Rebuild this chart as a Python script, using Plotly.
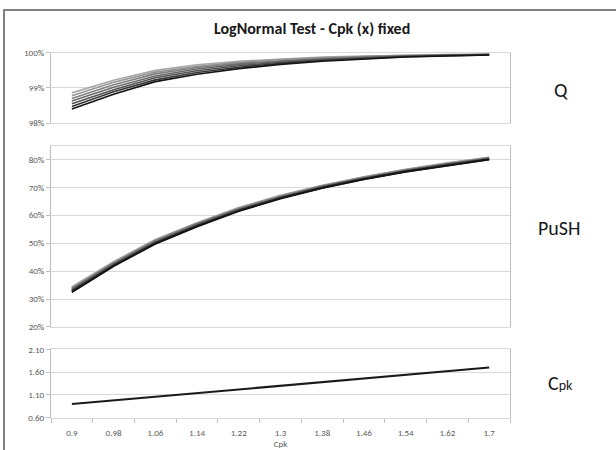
import plotly.graph_objects as go

W, H = 616, 450

# Cpk categories along the shared horizontal axis
cpk = [0.9, 0.98, 1.06, 1.14, 1.22, 1.3, 1.38, 1.46, 1.54, 1.62, 1.7]
cpk_labels = ["0.9", "0.98", "1.06", "1.14", "1.22", "1.3", "1.38", "1.46", "1.54", "1.62", "1.7"]

# Q (%) – seven runs, lightest to darkest
q_1 = [98.86, 99.22, 99.50, 99.66, 99.76, 99.83, 99.88, 99.91, 99.93, 99.95, 99.96]
q_2 = [98.78, 99.16, 99.45, 99.62, 99.73, 99.81, 99.86, 99.90, 99.93, 99.95, 99.96]
q_3 = [98.70, 99.09, 99.40, 99.58, 99.70, 99.78, 99.84, 99.89, 99.92, 99.94, 99.95]
q_4 = [98.63, 99.02, 99.34, 99.54, 99.67, 99.76, 99.82, 99.87, 99.91, 99.93, 99.95]
q_5 = [98.55, 98.95, 99.29, 99.49, 99.63, 99.73, 99.80, 99.86, 99.90, 99.93, 99.95]
q_6 = [98.47, 98.89, 99.23, 99.44, 99.59, 99.70, 99.78, 99.84, 99.89, 99.92, 99.94]
q_7 = [98.40, 98.82, 99.18, 99.39, 99.55, 99.67, 99.76, 99.83, 99.88, 99.91, 99.94]

# PuSH (%) – seven runs, lightest to darkest
p_1 = [34.3, 43.3, 51.3, 57.3, 62.7, 67.1, 70.7, 73.7, 76.4, 78.7, 80.7]
p_2 = [34.0, 43.0, 51.0, 57.1, 62.5, 66.9, 70.5, 73.6, 76.3, 78.6, 80.6]
p_3 = [33.7, 42.8, 50.8, 56.9, 62.3, 66.7, 70.4, 73.4, 76.1, 78.4, 80.5]
p_4 = [33.4, 42.5, 50.5, 56.7, 62.1, 66.5, 70.2, 73.3, 76.0, 78.3, 80.3]
p_5 = [33.1, 42.3, 50.3, 56.5, 61.9, 66.3, 70.1, 73.2, 75.9, 78.2, 80.2]
p_6 = [32.8, 42.0, 50.0, 56.2, 61.7, 66.2, 69.9, 73.0, 75.7, 78.0, 80.1]
p_7 = [32.5, 41.8, 49.8, 56.0, 61.5, 66.0, 69.8, 72.9, 75.6, 77.9, 80.0]

# Cpk on the y scale
cpk_y = [0.9, 0.98, 1.06, 1.14, 1.22, 1.3, 1.38, 1.46, 1.54, 1.62, 1.7]

# y tick labels
q_ticks = [98, 99, 100]
q_tick_labels = ["98%", "99%", "100%"]
p_ticks = [20, 30, 40, 50, 60, 70, 80]
p_tick_labels = ["20%", "30%", "40%", "50%", "60%", "70%", "80%"]
c_ticks = [0.6, 1.1, 1.6, 2.1]
c_tick_labels = ["0.60", "1.10", "1.60", "2.10"]

q_series = [q_1, q_2, q_3, q_4, q_5, q_6, q_7]
p_series = [p_1, p_2, p_3, p_4, p_5, p_6, p_7]
greys = ["#a8a8a8", "#959595", "#808080", "#6a6a6a", "#525252", "#363636", "#151515"]

FONT = "Carlito, Lato, sans-serif"
GRID = "#d9d9d9"
AX = "#bfbfbf"
TICKF = dict(family=FONT, size=9, color="#595959")


def px_x(p):
    return p / W


def py(p):
    return 1 - p / H


fig = go.Figure()

for s, c in zip(q_series, greys):
    fig.add_trace(go.Scatter(x=cpk, y=s, mode="lines", line=dict(color=c, width=1.6),
                             xaxis="x3", yaxis="y3", showlegend=False))
for s, c in zip(p_series, greys):
    fig.add_trace(go.Scatter(x=cpk, y=s, mode="lines", line=dict(color=c, width=2),
                             xaxis="x2", yaxis="y2", showlegend=False))
fig.add_trace(go.Scatter(x=cpk, y=cpk_y, mode="lines", line=dict(color="#1a1a1a", width=2),
                         xaxis="x", yaxis="y", showlegend=False))

xdom = [px_x(51), px_x(510)]
xrange_ = [0.86, 1.74]

common_x = dict(domain=xdom, range=xrange_, showline=True, mirror=True, linecolor=GRID,
                linewidth=1, showgrid=False, zeroline=False, fixedrange=True)
common_y = dict(showline=True, mirror=True, linecolor=AX, linewidth=1, gridcolor=GRID,
                gridwidth=1, zeroline=False, ticks="outside", ticklen=4, tickcolor=AX,
                tickfont=TICKF, fixedrange=True, tickmode="array")

fig.update_layout(
    width=W, height=H, margin=dict(l=0, r=0, t=0, b=0),
    paper_bgcolor="white", plot_bgcolor="white",
    xaxis=dict(**common_x, anchor="y", tickmode="array", tickvals=cpk, ticktext=cpk_labels,
               ticks="", tickfont=TICKF, ticklabelstandoff=7,
               minor=dict(tickvals=[0.86 + 0.08 * i for i in range(12)], ticks="outside",
                          ticklen=4, tickcolor=AX, showgrid=False),
               title=dict(text="Cpk", font=dict(family=FONT, size=9, color="#595959"), standoff=0)),
    xaxis2=dict(**common_x, anchor="y2", showticklabels=False, ticks=""),
    xaxis3=dict(**common_x, anchor="y3", showticklabels=False, ticks=""),
    yaxis=dict(**common_y, domain=[py(422), py(352)], range=[0.6, 2.1],
               tickvals=c_ticks, ticktext=c_tick_labels, anchor="x"),
    yaxis2=dict(**common_y, domain=[py(329), py(143)], range=[20, 85],
                tickvals=p_ticks, ticktext=p_tick_labels, anchor="x2"),
    yaxis3=dict(**common_y, domain=[py(120), py(48)], range=[98, 100],
                tickvals=q_ticks, ticktext=q_tick_labels, anchor="x3"),
)


def label(text, x, y, font):
    fig.add_annotation(text=text, x=px_x(x), y=py(y), xref="paper", yref="paper",
                       xanchor="center", yanchor="middle", showarrow=False, font=font)


# chart title
label("<b>LogNormal Test - Cpk (x) fixed</b>", 312, 23,
      dict(family=FONT, size=16, color="#1a1a1a"))

# panel labels on the right
side_font = dict(family=FONT, size=20, color="#1a1a1a")
label("Q", 561, 86, side_font)
label("PuSH", 559, 228, side_font)
label("C<span style='font-size:14px'>pk</span>", 560, 386, side_font)

# outer chart frame (only top and left edges fall inside the page)
fig.add_shape(type="rect", xref="paper", yref="paper", layer="above",
              x0=px_x(4), x1=px_x(640), y0=py(4), y1=py(470),
              line=dict(color="#808080", width=2), fillcolor="rgba(0,0,0,0)")

fig.write_html("out.html")
